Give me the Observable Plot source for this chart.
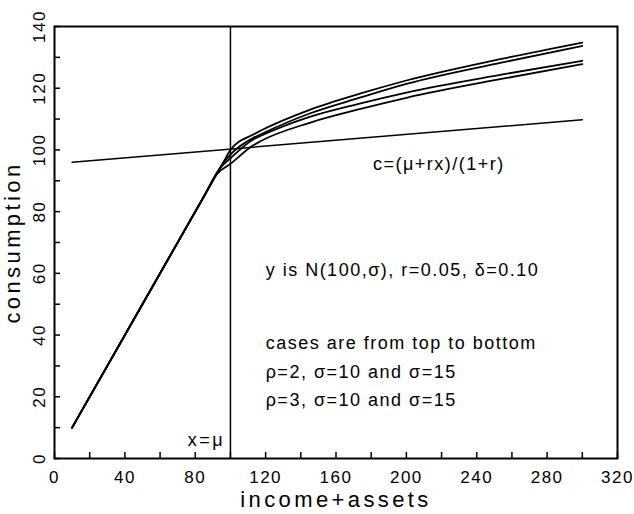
<!DOCTYPE html>
<html>
<head>
<meta charset="utf-8">
<script src="https://cdn.jsdelivr.net/npm/d3@7"></script>
<script src="https://cdn.jsdelivr.net/npm/@observablehq/plot@0.6"></script>
<style>
  body { margin: 0; background: #fff; }
  #chart svg { display: block; }
  .ticklab text { letter-spacing: 1.5px; }
  .axtitle text { letter-spacing: 3.4px; }
  .note text { letter-spacing: 1.5px; }
  .munote text { letter-spacing: 2.5px; }
</style>
</head>
<body>
<div id="chart"></div>
<script>
// ---- data ----
const xTickValues = [0, 20, 40, 60, 80, 100, 120, 140, 160, 180, 200, 220, 240, 260, 280, 300, 320];
const xTickLabels = [0, 40, 80, 120, 160, 200, 240, 280, 320];
const yTickValues = [0, 10, 20, 30, 40, 50, 60, 70, 80, 90, 100, 110, 120, 130, 140];
const yTickLabels = [0, 20, 40, 60, 80, 100, 120, 140];

// consumption functions: income+assets (x) and consumption (c); c = x below the kink
const curveX = [10, 50, 85, 92, 94, 95, 96, 100, 113, 117, 145, 174, 200, 254, 300];
const rho2sigma10 = [10, 50, 85, null, null, null, 96, 100.0, 105.0, 106.2, 113.0, 118.3, 122.5, 129.5, 134.8];
const rho2sigma15 = [10, 50, 85, null, null, 95, null, 98.5, 103.9, 105.0, 111.8, 117.0, 121.4, 128.3, 133.7];
const rho3sigma10 = [10, 50, 85, null, 94, null, null, 97.3, 103.4, 104.5, 110.7, 115.1, 118.6, 124.4, 128.9];
const rho3sigma15 = [10, 50, 85, 92, null, null, null, 95.5, 101.5, 102.8, 108.8, 113.3, 116.9, 123.0, 127.8];
const seriesNames = ["rho=2, sigma=10", "rho=2, sigma=15", "rho=3, sigma=10", "rho=3, sigma=15"];
const seriesValues = [rho2sigma10, rho2sigma15, rho3sigma10, rho3sigma15];

// line c = (mu + r x)/(1 + r)
const cLineX = [10, 300];
const cLineY = [96.0, 109.8];

// vertical line x = mu
const muX = [100];

// annotations
const noteText = ["c=(\u03BC+rx)/(1+r)", "y is N(100,\u03C3), r=0.05, \u03B4=0.10", "cases are from top to bottom",
                  "\u03C1=2, \u03C3=10 and \u03C3=15", "\u03C1=3, \u03C3=10 and \u03C3=15"];
const noteX = [181, 120, 120, 120, 120];
const noteY = [95.5, 61, 37.3, 27.9, 18.8];
const muLabel = ["x=\u03BC"];
const muLabelX = [97];
const muLabelY = [5.8];

// ---- build tables ----
const curveRows = [];
seriesValues.forEach((vals, s) => {
  vals.forEach((v, i) => { if (v != null) curveRows.push({series: seriesNames[s], x: curveX[i], c: v}); });
});
const cLineRows = cLineX.map((x, i) => ({x, c: cLineY[i]}));
const notes = noteText.map((t, i) => ({t, x: noteX[i], y: noteY[i]}));
const muNotes = muLabel.map((t, i) => ({t, x: muLabelX[i], y: muLabelY[i]}));

const font = "'Liberation Sans', Arial, sans-serif";

const chart = Plot.plot({
  width: 634,
  height: 514,
  marginLeft: 54,
  marginRight: 17,
  marginTop: 26,
  marginBottom: 56,
  style: {fontFamily: font, fontSize: "17px", color: "#000", background: "#fff"},
  x: {domain: [0, 320]},
  y: {domain: [0, 140]},
  marks: [
    // inward ticks
    Plot.axisX({ticks: xTickValues, tickSize: -6, tickFormat: () => "", label: null, strokeWidth: 1.5}),
    Plot.axisY({ticks: yTickValues, tickSize: -6, tickFormat: () => "", label: null, strokeWidth: 1.5}),
    // tick labels
    Plot.text(xTickLabels, {x: d => d, text: d => String(d), frameAnchor: "bottom", dy: 19,
      textAnchor: "middle", lineAnchor: "middle", fontSize: 17, className: "ticklab"}),
    Plot.text(yTickLabels, {y: d => d, text: d => String(d), frameAnchor: "left", dx: -15, rotate: -90,
      textAnchor: "middle", lineAnchor: "middle", fontSize: 17, className: "ticklab"}),
    // axis titles
    Plot.text(["income+assets"], {frameAnchor: "bottom", dy: 41, text: d => d, fontSize: 22,
      lineAnchor: "middle", className: "axtitle"}),
    Plot.text(["consumption"], {frameAnchor: "left", dx: -42, text: d => d, rotate: -90, fontSize: 22,
      lineAnchor: "middle", textAnchor: "middle", className: "axtitle"}),
    // reference lines
    Plot.ruleX(muX, {x: d => d, stroke: "#000", strokeWidth: 1.5}),
    Plot.line(cLineRows, {x: "x", y: "c", stroke: "#000", strokeWidth: 1.5}),
    // consumption curves
    Plot.line(curveRows, {x: "x", y: "c", z: "series", stroke: "#000", strokeWidth: 1.8, curve: "monotone-x"}),
    // annotations
    Plot.text(notes, {x: "x", y: "y", text: "t", textAnchor: "start", lineAnchor: "middle", fontSize: 18,
      className: "note"}),
    Plot.text(muNotes, {x: "x", y: "y", text: "t", textAnchor: "end", lineAnchor: "middle", fontSize: 18,
      className: "munote"}),
    Plot.frame({stroke: "#000", strokeWidth: 2})
  ]
});
document.getElementById("chart").appendChild(chart);
</script>
</body>
</html>
